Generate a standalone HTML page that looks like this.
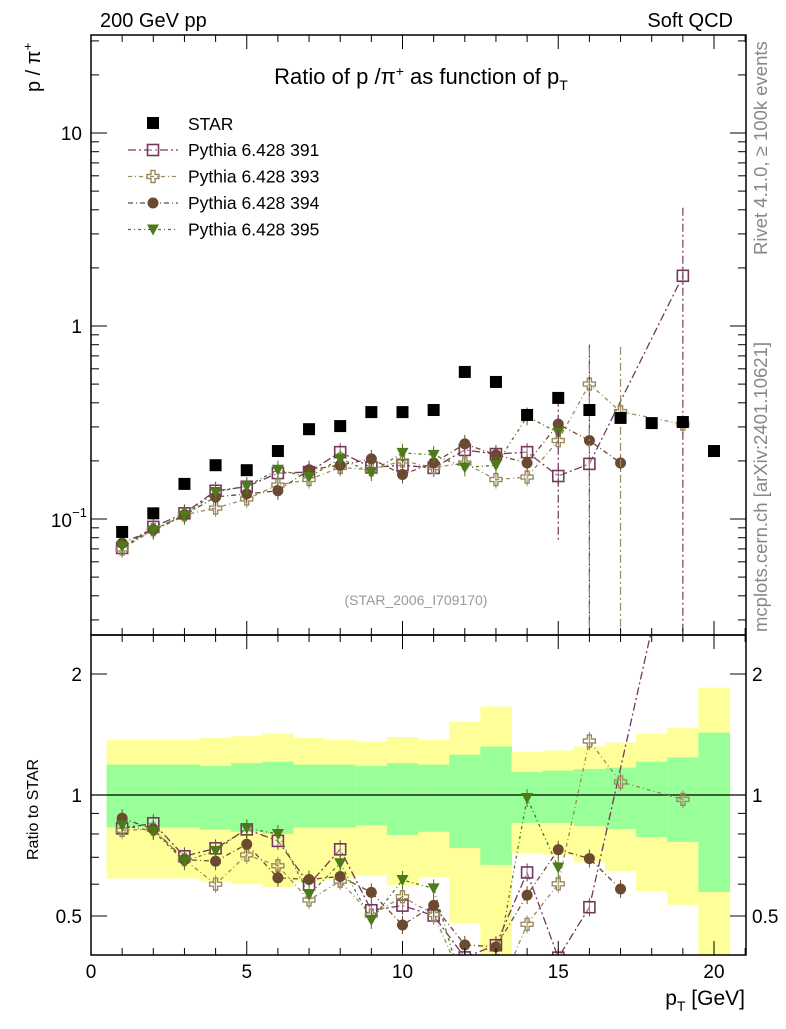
<!DOCTYPE html>
<html><head><meta charset="utf-8">
<style>
body{margin:0;background:#fff;width:786px;height:1024px;overflow:hidden}
svg{font-family:"Liberation Sans",sans-serif}
</style></head>
<body>
<svg id="c" width="786" height="1024"></svg>
<script>
const bins=[1,2,3,4,5,6,7,8,9,10,11,12,13,14,15,16,17,18,19,20];
const star=[0.0857,0.107,0.152,0.19,0.179,0.225,0.292,0.303,0.358,0.358,0.367,0.578,0.513,0.346,0.424,0.367,0.334,0.314,0.318,0.225];
const p391=[0.0708,0.091,0.107,0.14,0.147,0.173,0.175,0.222,0.185,0.19,0.184,0.228,0.217,0.222,0.167,0.193,null,null,1.82,null];
const p393=[0.070,0.088,0.105,0.114,0.127,0.15,0.16,0.185,0.18,0.2,0.185,0.195,0.16,0.165,0.255,0.5,0.36,null,0.31,null];
const p394=[0.075,0.088,0.105,0.13,0.135,0.14,0.18,0.19,0.205,0.17,0.195,0.245,0.215,0.195,0.31,0.255,0.195,null,null,null];
const p395=[0.072,0.087,0.104,0.138,0.148,0.18,0.165,0.205,0.175,0.22,0.215,0.185,0.19,0.34,0.28,null,null,null,null,null];
const yUp=[1.37,1.37,1.37,1.386,1.40,1.42,1.386,1.37,1.36,1.394,1.37,1.52,1.66,1.28,1.29,1.32,1.35,1.42,1.47,1.85];
const gUp=[1.19,1.19,1.19,1.18,1.20,1.21,1.19,1.19,1.18,1.20,1.19,1.26,1.32,1.14,1.15,1.16,1.17,1.21,1.24,1.43];
const gLo=[0.83,0.83,0.83,0.82,0.81,0.80,0.83,0.83,0.84,0.795,0.81,0.738,0.67,0.852,0.852,0.837,0.823,0.786,0.764,0.574];
const yLo=[0.62,0.62,0.62,0.61,0.60,0.59,0.61,0.62,0.63,0.597,0.625,0.48,0.38,0.717,0.71,0.68,0.647,0.577,0.533,0.38];
const xTicks=[0,5,10,15,20];

const L=91,R=746,T=35,M=635,B=955;
const X=v=>L+v*31.15;
const Y=v=>326-193*Math.log10(v);
const YR=v=>795-402*Math.log10(v);
const svg=document.getElementById('c');
const NS='http://www.w3.org/2000/svg';
function el(t,a,p){const e=document.createElementNS(NS,t);for(const k in a)e.setAttribute(k,a[k]);(p||svg).appendChild(e);return e;}
function txt(s,a,p){const e=el('text',a,p);e.textContent=s;return e;}

const defs=el('defs',{});
const c1=el('clipPath',{id:'cm'},defs);el('rect',{x:L,y:T,width:R-L,height:M-T},c1);
const c2=el('clipPath',{id:'cr'},defs);el('rect',{x:L,y:M,width:R-L,height:B-M},c2);

const bandG=el('g',{'clip-path':'url(#cr)'});


bins.forEach((b,i)=>{
  const r=el('rect',{x:X(b-0.5),width:X(1)-X(0)+0.5,y:YR(yUp[i]),height:YR(yLo[i])-YR(yUp[i]),fill:'#ffff99'},bandG);
  
  
  const g=el('rect',{x:X(b-0.5),width:X(1)-X(0)+0.5,y:YR(gUp[i]),height:YR(gLo[i])-YR(gUp[i]),fill:'#99ff99'},bandG);
  
  
});
el('line',{x1:L,x2:R,y1:YR(1),y2:YR(1),stroke:'#000','stroke-width':1.2});

const series=[
 {name:'391',d:p391,c:'#74385e',m:'osq',dash:'8,3,2,3'},
 {name:'393',d:p393,c:'#998a5f',m:'ocross',dash:'4,3,1,3'},
 {name:'394',d:p394,c:'#6b4a30',m:'circ',dash:'5,3,1,3'},
 {name:'395',d:p395,c:'#4d7a1a',m:'tri',dash:'3,3,1,3'}];
function marker(m,x,y,c,p){
  let e;
  if(m==='osq')e=el('rect',{x:x-5.5,y:y-5.5,width:11,height:11,fill:'#fff','fill-opacity':0.3,stroke:c,'stroke-width':1.6},p);
  else if(m==='ocross')e=el('path',{d:`M${x-2},${y-6}h4v4h4v4h-4v4h-4v-4h-4v-4h4z`,fill:'none',stroke:c,'stroke-width':1.4},p);
  else if(m==='circ')e=el('circle',{cx:x,cy:y,r:5.5,fill:c},p);
  else if(m==='tri')e=el('path',{d:`M${x-6},${y-5}h12l-6,11z`,fill:c},p);
  else e=el('rect',{x:x-6,y:y-6,width:12,height:12,fill:'#000'},p);
  return e;
}
function drawSeries(s,Yf,clip,ratio){
  const g=el('g',{'clip-path':'url(#'+clip+')'});
  
  
  let pts=[];
  bins.forEach((b,i)=>{const v=s.d[i];if(v==null)return;const vv=ratio?v/star[i]:v;pts.push([X(b),Yf(vv)]);});
  el('polyline',{points:pts.map(p=>p.join(',')).join(' '),fill:'none',stroke:s.c,'stroke-width':1.3,'stroke-dasharray':s.dash},g);
  pts.forEach(p=>{
    el('line',{x1:p[0],x2:p[0],y1:p[1]-9,y2:p[1]+9,stroke:s.c,'stroke-width':1},g);
    const mk=marker(s.m,p[0],p[1],s.c,g);
    
    
  });
}
const bigErr=[[15,0.078,0.42,'#74385e'],[16,0.02,0.8,'#74385e'],[19,0.02,4.1,'#74385e'],[16,0.02,0.77,'#998a5f'],[17,0.02,0.78,'#998a5f']];
series.forEach(s=>drawSeries(s,Y,'cm',false));
const eg=el('g',{'clip-path':'url(#cm)'});
bigErr.forEach(e=>{el('line',{x1:X(e[0]),x2:X(e[0]),y1:Y(e[2]),y2:Y(e[1]),stroke:e[3],'stroke-width':1.2,'stroke-dasharray':'8,3,2,3'},eg);});
const sg=el('g',{});


bins.forEach((b,i)=>{const m=marker('sq',X(b),Y(star[i]),'#000',sg);});
series.forEach(s=>drawSeries(s,YR,'cr',true));

el('rect',{x:L,y:T,width:R-L,height:M-T,fill:'none',stroke:'#000','stroke-width':1.5});
el('rect',{x:L,y:M,width:R-L,height:B-M,fill:'none',stroke:'#000','stroke-width':1.5});

for(let v=0;v<=21;v++){
  const big=v%5===0,len=big?14:7,x=X(v);
  [[B,-1],[M,1],[M,-1],[T,1]].forEach(([y,d])=>el('line',{x1:x,x2:x,y1:y,y2:y+d*len,stroke:'#000','stroke-width':1}));
}
xTicks.forEach(v=>{const t=txt(String(v),{x:X(v),y:978,'font-size':19,'text-anchor':'middle'});});
for(let e=-2;e<=1;e++)for(let k=1;k<=9;k++){
  const v=k*Math.pow(10,e);const y=Y(v);if(y<T||y>M)continue;
  const len=k===1?16:8;
  el('line',{x1:L,x2:L+len,y1:y,y2:y,stroke:'#000'});el('line',{x1:R,x2:R-len,y1:y,y2:y,stroke:'#000'});
}
txt('10',{x:82,y:140,'font-size':19,'text-anchor':'end'});
txt('1',{x:82,y:333,'font-size':19,'text-anchor':'end'});
txt('10',{x:72,y:527,'font-size':19,'text-anchor':'end'});
txt('−1',{x:87,y:517,'font-size':13,'text-anchor':'end'});
[0.4,0.5,0.6,0.7,0.8,0.9,1,2].forEach(v=>{const y=YR(v);const len=(v===0.5||v===1||v===2)?16:8;
  el('line',{x1:L,x2:L+len,y1:y,y2:y,stroke:'#000'});el('line',{x1:R,x2:R-len,y1:y,y2:y,stroke:'#000'});});
[[0.5,'0.5'],[1,'1'],[2,'2']].forEach(([v,s])=>{txt(s,{x:82,y:YR(v)+7,'font-size':19,'text-anchor':'end'});txt(s,{x:752,y:YR(v)+7,'font-size':19});});

txt('200 GeV pp',{x:100,y:27,'font-size':20});
txt('Soft QCD',{x:733,y:27,'font-size':20,'text-anchor':'end'});
const ti=txt('',{x:421,y:84,'font-size':22,'text-anchor':'middle'});

ti.innerHTML='Ratio of p /π<tspan dy="-8" font-size="14">+</tspan><tspan dy="8"> as function of p</tspan><tspan dy="6" font-size="14">T</tspan>';
const yl=txt('',{transform:'translate(40,92) rotate(-90)','font-size':20});
yl.innerHTML='p / π<tspan dy="-8" font-size="13">+</tspan>';
txt('Ratio to STAR',{transform:'translate(38,860) rotate(-90)','font-size':16});
const xl=txt('',{x:745,y:1005,'font-size':21,'text-anchor':'end'});
xl.innerHTML='p<tspan dy="6" font-size="14">T</tspan><tspan dy="-6"> [GeV]</tspan>';
txt('(STAR_2006_I709170)',{x:416,y:605,'font-size':14,fill:'#999','text-anchor':'middle'});
txt('Rivet 4.1.0, ≥ 100k events',{transform:'translate(767,255) rotate(-90)','font-size':18.5,fill:'#888'});
txt('mcplots.cern.ch [arXiv:2401.10621]',{transform:'translate(767,632) rotate(-90)','font-size':18.5,fill:'#888'});

const lg=el('g',{});
marker('sq',153,123,'#000',lg);txt('STAR',{x:188,y:130,'font-size':17.5},lg);
series.forEach((s,i)=>{const y=150+i*26.5;
  el('line',{x1:128,x2:178,y1:y,y2:y,stroke:s.c,'stroke-width':1.3,'stroke-dasharray':s.dash},lg);
  marker(s.m,153,y,s.c,lg);
  const t=txt('Pythia 6.428 '+s.name,{x:188,y:y+6,'font-size':17.5},lg);
  });
</script>
</body></html>
